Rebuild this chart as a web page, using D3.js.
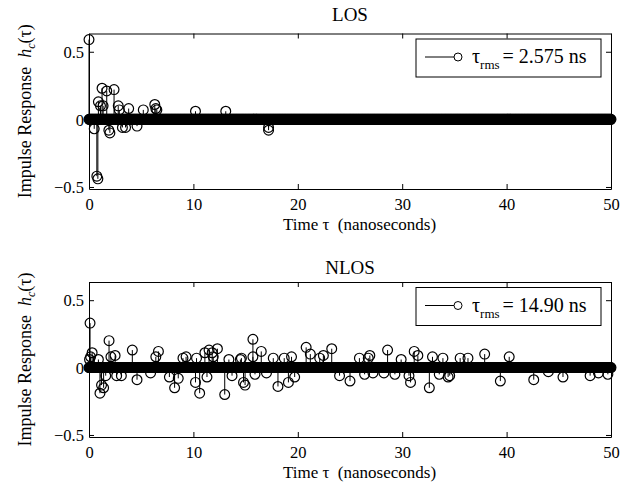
<!DOCTYPE html>
<html>
<head>
<meta charset="utf-8">
<script src="https://cdnjs.cloudflare.com/ajax/libs/d3/7.8.5/d3.min.js"></script>
<style>
  body { margin: 0; background: #fff; }
  svg { display: block; }
  text { font-family: "Liberation Serif", "Times New Roman", serif; fill: #000; }
</style>
</head>
<body>
<div id="chart"></div>
<script>
// sampling grid of the channel (ns) - taps not listed below are zero
var sampleStep = 0.05;
var timeMax = 50;

// LOS taps: delay (ns) and amplitude
var losDelay = [0, 0.5, 0.75, 0.85, 0.9, 1.1, 1.25, 1.35, 1.7, 1.9, 2.0, 2.4, 2.8, 2.9,
    3.2, 3.5, 3.8, 4.6, 5.2, 6.3, 6.4, 6.5, 10.2, 13.1, 17.2, 17.2];
var losValue = [0.59, -0.07, -0.42, -0.44, 0.13, 0.10, 0.23, 0.10, 0.21, -0.08, -0.10, 0.22, 0.10, 0.07,
    -0.06, -0.06, 0.08, -0.05, 0.07, 0.11, 0.08, 0.07, 0.06, 0.06, -0.06, -0.08];

// NLOS taps
var nlosDelay = [0.05, 0.1, 0.15, 0.3, 0.9, 1.05, 1.2, 1.4, 1.6, 1.92, 2.1, 2.5, 2.65, 3.1,
    4.15, 4.6, 5.9, 6.4, 6.65, 7.7, 8.2, 8.55, 9.0, 9.3, 10.2, 10.3, 10.6, 11.1, 11.3, 11.5,
    11.8, 11.9, 12.3, 13.0, 13.4, 13.7, 14.5, 14.6, 14.8, 14.95, 15.7, 15.7, 15.9, 16.5, 17.0,
    17.65, 18.1, 18.7, 19.1, 19.4, 19.7, 20.8, 21.2, 22.1, 22.45, 23.25, 24.0, 25.0, 25.9,
    26.4, 26.75, 26.9, 27.2, 28.25, 28.6, 29.3, 29.9, 30.65, 30.8, 31.15, 31.5, 32.6, 32.9,
    33.55, 33.9, 34.4, 34.55, 35.55, 36.3, 37.9, 39.4, 40.25, 42.6, 44.0, 45.4, 48.0, 48.8, 49.7];
var nlosValue = [0.06, 0.33, 0.08, 0.11, 0.06, -0.19, -0.13, -0.15, -0.06, 0.20, 0.08, 0.09, -0.06, -0.06,
    0.13, -0.09, -0.04, 0.08, 0.12, -0.07, -0.15, -0.08, 0.07, 0.08, -0.11, 0.07, -0.19, 0.11, -0.07, 0.13,
    0.11, 0.08, 0.14, -0.20, 0.06, -0.06, 0.06, 0.07, -0.11, -0.13, 0.21, 0.08, -0.05, 0.12, -0.04,
    0.07, -0.14, 0.07, -0.11, 0.08, -0.07, 0.15, 0.10, 0.07, 0.09, 0.14, -0.06, -0.10, 0.07,
    -0.05, 0.07, 0.09, -0.04, -0.04, 0.13, -0.05, 0.06, -0.06, -0.11, 0.12, 0.09, -0.15, 0.08,
    -0.05, 0.07, -0.07, -0.06, 0.07, 0.07, 0.10, -0.10, 0.08, -0.09, -0.03, -0.07, -0.06, -0.04, -0.05];

var xTicks = [0, 10, 20, 30, 40, 50];
var yTicks = [-0.5, 0, 0.5];
var titles = ["LOS", "NLOS"];
var rmsLabels = ["2.575", "14.90"];

var width = 639, height = 493;

var svg = d3.select("#chart").append("svg")
    .attr("width", width)
    .attr("height", height);

var x = d3.scaleLinear().domain([0, timeMax]).range([89, 611]);

var panels = [
    {top: 33.5, bottom: 189, delay: losDelay, value: losValue},
    {top: 282, bottom: 437, delay: nlosDelay, value: nlosValue}
];

function samplesFor(delay, value){
    // zero-valued grid samples, then the non-zero taps on top
    var pts = d3.range(0, Math.round(timeMax / sampleStep) + 1).map(function(i){
        return {t: i * sampleStep, v: 0};
    });
    delay.forEach(function(t, i){
        pts.push({t: t, v: value[i]});
    });
    return pts;
}

function drawPanel(p, idx){
    var y = d3.scaleLinear().domain([-0.515, 0.635]).range([p.bottom, p.top]);
    var g = svg.append("g");
    var pts = samplesFor(p.delay, p.value);

    // stems
    g.append("g").selectAll("line")
        .data(pts.filter(function(d){ return d.v !== 0; }))
        .enter().append("line")
        .attr("x1", function(d){ return x(d.t); })
        .attr("x2", function(d){ return x(d.t); })
        .attr("y1", y(0))
        .attr("y2", function(d){ return y(d.v); })
        .style("stroke", "#000")
        .style("stroke-width", "1px");

    // baseline
    g.append("line")
        .attr("x1", x(0)).attr("x2", x(timeMax))
        .attr("y1", y(0)).attr("y2", y(0))
        .style("stroke", "#000");

    // markers
    g.append("g").selectAll("circle")
        .data(pts)
        .enter().append("circle")
        .attr("cx", function(d){ return x(d.t); })
        .attr("cy", function(d){ return y(d.v); })
        .attr("r", 4.9)
        .style("fill", "none")
        .style("stroke", "#000")
        .style("stroke-width", "1.2px");

    // axes box with inward ticks on all sides
    var axB = d3.axisBottom(x).tickValues(xTicks).tickSizeInner(-5).tickSizeOuter(0).tickPadding(9);
    var axT = d3.axisTop(x).tickValues(xTicks).tickSizeInner(-5).tickSizeOuter(0).tickFormat("");
    var axL = d3.axisLeft(y).tickValues(yTicks).tickSizeInner(-5).tickSizeOuter(0).tickPadding(5)
        .tickFormat(function(d){ return d === 0 ? "0" : d3.format(".1f")(d).replace("-", "\u2212"); });
    var axR = d3.axisRight(y).tickValues(yTicks).tickSizeInner(-5).tickSizeOuter(0).tickFormat("");

    var gb = g.append("g").attr("transform", "translate(0," + p.bottom + ")").call(axB);
    g.append("g").attr("transform", "translate(0," + p.top + ")").call(axT);
    var gl = g.append("g").attr("transform", "translate(" + x(0) + ",0)").call(axL);
    g.append("g").attr("transform", "translate(" + x(timeMax) + ",0)").call(axR);

    g.selectAll(".domain").style("stroke", "#000").style("stroke-width", "1px");
    g.selectAll(".tick line").style("stroke", "#000");
    gb.selectAll("text").style("font-size", "16.5px");
    gl.selectAll("text").style("font-size", "16.5px").attr("dy", "0.35em");
    g.selectAll(".tick text").style("font-family", "Liberation Serif").style("fill", "#000");

    // title
    g.append("text")
        .attr("x", 350).attr("y", p.top - (idx === 0 ? 12.5 : 8))
        .attr("text-anchor", "middle")
        .style("font-size", "19px")
        .text(titles[idx]);

    // x label
    g.append("text")
        .attr("x", 283).attr("y", p.bottom + 41)
        .style("font-size", "17px")
        .attr("xml:space", "preserve")
        .text("Time \u03c4  (nanoseconds)");

    // y label
    var yl = g.append("text")
        .attr("transform", "translate(31," + ((p.top + p.bottom) / 2) + ") rotate(-90)")
        .attr("text-anchor", "middle")
        .style("font-size", "18px")
        .attr("xml:space", "preserve");
    yl.append("tspan").text("Impulse Response  ");
    yl.append("tspan").style("font-style", "italic").text("h");
    yl.append("tspan").style("font-style", "italic").style("font-size", "12px").attr("dy", 4).text("c");
    yl.append("tspan").attr("dy", -4).text("(\u03c4)");

    // legend
    var lg = g.append("g").attr("transform", "translate(416," + (p.top + 5.5) + ")");
    lg.append("rect")
        .attr("width", 185).attr("height", 38)
        .style("fill", "#fff").style("stroke", "#000").style("stroke-width", "1px");
    lg.append("line")
        .attr("x1", 9).attr("x2", 38).attr("y1", 18).attr("y2", 18)
        .style("stroke", "#000");
    lg.append("circle")
        .attr("cx", 42).attr("cy", 18).attr("r", 4)
        .style("fill", "none").style("stroke", "#000");
    var lt = lg.append("text").attr("x", 56).attr("y", 24).style("font-size", "20px");
    lt.append("tspan").text("\u03c4");
    lt.append("tspan").attr("dy", 6).style("font-size", "13px").text("rms");
    lt.append("tspan").attr("dy", -6).attr("dx", 3).text("= " + rmsLabels[idx] + " ns");
}

panels.forEach(drawPanel);
</script>
</body>
</html>
